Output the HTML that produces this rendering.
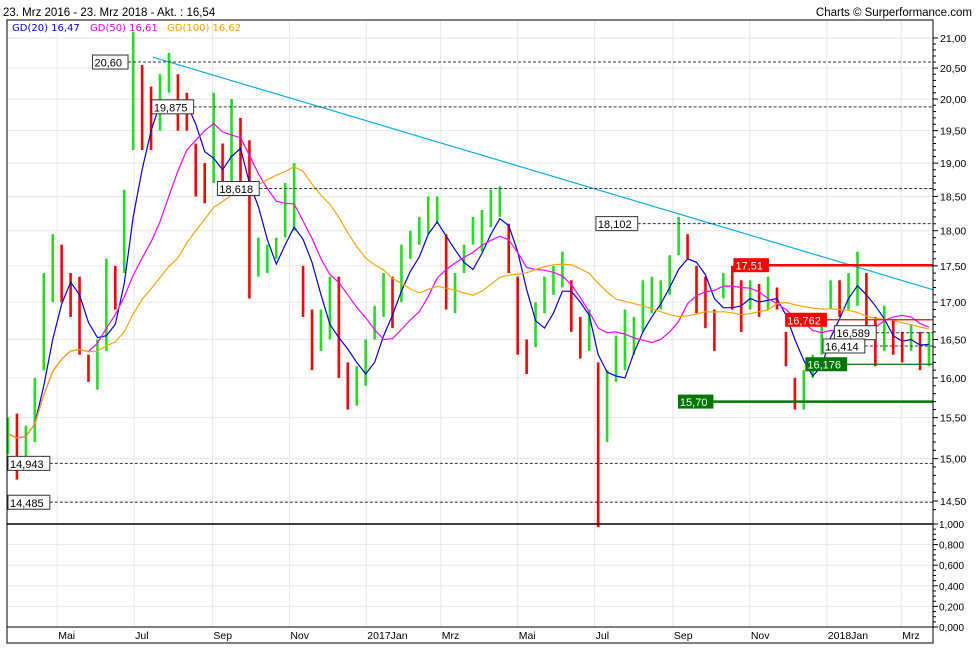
<!DOCTYPE html>
<html><head><meta charset="utf-8">
<style>
html,body{margin:0;padding:0;background:#fff;}
svg{display:block;font-family:"Liberation Sans","DejaVu Sans",sans-serif;}
</style></head>
<body>
<svg id="chart" width="980" height="650" viewBox="0 0 980 650" xmlns="http://www.w3.org/2000/svg">
<text x="3" y="16" font-size="11.5" fill="#000">23. Mrz 2016 - 23. Mrz 2018 - Akt. : 16,54</text>
<text x="972" y="16" font-size="11.5" fill="#000" text-anchor="end">Charts © Surperformance.com</text>
<g id="grid"></g>
<g id="marks"></g>
<g id="ann"></g>
<g id="axes"></g>
<g font-family="DejaVu Sans, sans-serif" font-size="10">
<text x="12" y="31" fill="#0000ee">GD(20)  16,47</text>
<text x="90" y="31" fill="#ee00ee">GD(50)  16,61</text>
<text x="167" y="31" fill="#ffa000">GD(100)  16,62</text>
</g>
</svg>
<script>
const highs=[15.5,15.55,15.4,16.0,17.4,17.95,17.8,17.4,17.35,16.3,16.5,17.6,17.5,18.6,21.1,20.55,20.2,20.4,20.75,20.4,20.1,19.3,19.0,20.1,19.3,20.0,19.7,19.35,17.9,17.8,17.9,18.7,19.0,17.5,16.9,16.9,17.35,17.35,16.2,16.15,16.5,16.95,17.4,17.35,17.8,18.0,18.2,18.5,18.5,17.95,17.4,17.8,18.2,18.3,18.6,18.65,18.1,17.35,16.5,17.0,17.35,17.5,17.7,17.3,16.8,16.9,16.2,16.1,16.55,16.9,16.8,17.3,17.35,17.3,17.65,18.2,17.95,17.5,17.35,16.9,17.4,17.5,17.3,17.3,17.25,17.35,17.2,16.6,16.0,16.1,16.3,16.85,17.3,17.3,17.4,17.7,17.4,16.8,16.95,16.75,16.6,16.7,16.6,16.6];
const lows=[15.05,14.75,15.0,15.2,16.1,17.0,17.0,16.8,16.3,15.95,15.85,16.35,16.9,17.4,19.2,19.2,19.2,19.5,20.1,19.5,19.5,18.5,18.4,18.7,18.7,18.7,18.6,17.05,17.35,17.4,17.6,17.9,18.0,16.8,16.1,16.35,16.5,16.0,15.6,15.65,15.9,16.5,16.8,16.65,17.0,17.6,17.8,17.95,18.1,16.9,16.85,17.4,17.8,17.7,18.05,18.2,17.4,16.3,16.05,16.4,16.85,17.1,17.2,16.6,16.25,16.35,14.2,15.2,15.95,16.1,16.3,16.6,16.85,16.9,17.1,17.65,17.6,16.85,16.65,16.35,17.05,16.9,16.6,16.9,16.8,16.9,16.9,16.15,15.6,15.6,16.0,16.3,16.9,16.8,16.9,16.95,16.5,16.15,16.35,16.3,16.2,16.35,16.1,16.15];
const closes=[15.3,15.2,15.3,15.9,17.2,17.6,17.2,17.1,16.5,16.1,16.4,17.2,17.1,18.3,20.2,20.0,19.5,20.0,20.3,19.8,19.6,18.7,18.6,19.4,18.9,19.5,19.1,17.3,17.5,17.6,17.7,18.4,18.5,16.9,16.4,16.6,16.9,16.2,15.8,15.9,16.3,16.8,17.2,17.0,17.6,17.9,18.0,18.3,18.3,17.1,17.2,17.6,17.9,18.0,18.3,18.5,17.5,16.5,16.2,16.8,17.1,17.3,17.4,16.8,16.5,16.6,15.3,15.9,16.3,16.5,16.6,17.0,17.1,17.2,17.5,18.0,17.7,17.0,16.8,16.7,17.2,17.0,16.9,17.1,17.0,17.1,17.0,16.2,15.7,16.0,16.2,16.7,17.2,17.0,17.3,17.4,16.7,16.4,16.6,16.5,16.4,16.5,16.3,16.54];
const maWindows=[4,10,20];
const priceTicks=[21,20.5,20,19.5,19,18.5,18,17.5,17,16.5,16,15.5,15,14.5];
const priceTickLabels=["21,00","20,50","20,00","19,50","19,00","18,50","18,00","17,50","17,00","16,50","16,00","15,50","15,00","14,50"];
const volTicks=[1,0.8,0.6,0.4,0.2,0];
const volTickLabels=["1,000","0,800","0,600","0,400","0,200","0,000"];
const monthDays=[39,100,162,223,284,343,404,465,527,588,649,708];
const monthLabels=["Mai","Jul","Sep","Nov","2017Jan","Mrz","Mai","Jul","Sep","Nov","2018Jan","Mrz"];
const levelValues=[20.60,19.875,18.618,18.102,16.589,16.414,14.943,14.485];
const levelLabels=["20,60","19,875","18,618","18,102","16,589","16,414","14,943","14,485"];
const levelStartDay=[67,114,166,466,655,646,0,0];
const trendStart=[115,20.68], trendEnd=[730,17.17];

const NS="http://www.w3.org/2000/svg";
const L=7,R=933,T=20,MB=524,VB=627,B=643;
const X0=8,X1=929,TOTALDAYS=730;
function xDay(d){return X0+(X1-X0)*d/TOTALDAYS;}
function xBar(i){return X0+(X1-X0)*i/(closes.length-1);}
function yP(p){return 38+1250*Math.log(21/p);}
function yV(v){return VB-(VB-MB)*v;}
function mk(parent,tag,attrs,name,text){const e=document.createElementNS(NS,tag);for(const k in attrs)e.setAttribute(k,attrs[k]);


if(text!==undefined)e.textContent=text;document.getElementById(parent).appendChild(e);return e;}

priceTicks.forEach((p,i)=>{mk('grid','line',{x1:L,x2:R,y1:yP(p),y2:yP(p),stroke:'#e6e6e6'},'price-gridline');});
volTicks.forEach(v=>{mk('grid','line',{x1:L,x2:R,y1:yV(v),y2:yV(v),stroke:'#e6e6e6'},'volume-gridline');});
monthDays.forEach(d=>{mk('grid','line',{x1:xDay(d),x2:xDay(d),y1:T,y2:VB,stroke:'#e6e6e6'},'month-gridline');});

for(let i=0;i<closes.length;i++){
  const up=i===0?true:closes[i]>=closes[i-1];
  mk('marks','rect',{x:xBar(i)-1.3,y:yP(highs[i]),width:2.6,height:Math.max(1,yP(lows[i])-yP(highs[i])),fill:up?'#1fe01f':'#ff0000'},'price-bar');
}
const maColors=['#0000e0','#ff00ff','#ffa500'];
const maNames=['gd20-line','gd50-line','gd100-line'];
maWindows.forEach((w,k)=>{
  let pts=[];
  for(let i=0;i<closes.length;i++){const s=Math.max(0,i-w+1);let sum=0;for(let j=s;j<=i;j++)sum+=closes[j];pts.push(xBar(i).toFixed(1)+','+yP(sum/(i-s+1)).toFixed(1));}
  mk('marks','polyline',{points:pts.join(' '),fill:'none',stroke:maColors[k],'stroke-width':1.2},maNames[k]);
});
mk('ann','line',{x1:xDay(trendStart[0]),y1:yP(trendStart[1]),x2:R,y2:yP(trendEnd[1]),stroke:'#00b0f0','stroke-width':1.2},'trendline');
levelValues.forEach((v,i)=>{
  const y=yP(v);const x=xDay(levelStartDay[i]);
  const w=levelLabels[i].length*6.3+4;
  mk('ann','line',{x1:x+w,x2:R,y1:y,y2:y,stroke:'#333','stroke-dasharray':'3,2'},'level-line');
  mk('ann','rect',{x:x,y:y-7,width:w,height:14,fill:'#fff',stroke:'#333'},'level-label-box');
  mk('ann','text',{x:x+2,y:y+4.5,'font-size':11,fill:'#000'},'level-label',levelLabels[i]);
});
const solid=[[17.51,'17,51','#ff0000',2.5,575,'resistance'],[16.762,'16,762','#ff0000',1.2,616,'resistance'],[16.176,'16,176','#007700',1.2,632,'support'],[15.70,'15,70','#007700',2.5,531,'support']];
solid.forEach(s=>{
  const y=yP(s[0]),x=xDay(s[4]);const w=s[1].length*6.3+4;
  mk('ann','line',{x1:x,x2:R,y1:y,y2:y,stroke:s[2],'stroke-width':s[3]},s[5]+'-line');
  mk('ann','rect',{x:x,y:y-7,width:w,height:14,fill:s[2]},s[5]+'-label-box');
  mk('ann','text',{x:x+2,y:y+4.5,'font-size':11,fill:'#fff'},s[5]+'-label',s[1]);
});
mk('axes','rect',{x:L,y:T,width:R-L,height:B-T,fill:'none',stroke:'#000','stroke-width':1},'chart-frame');
mk('axes','line',{x1:L,x2:R,y1:MB,y2:MB,stroke:'#000','stroke-width':1.5},'pane-divider');
mk('axes','line',{x1:L,x2:R,y1:VB,y2:VB,stroke:'#000','stroke-width':1},'x-axis-line');
priceTicks.forEach((p,i)=>{const y=yP(p);
  mk('axes','line',{x1:R,x2:R+5,y1:y,y2:y,stroke:'#000'},'price-tick');
  mk('axes','text',{x:R+7,y:y+4,'font-size':10.5,fill:'#000'},'price-tick-label',priceTickLabels[i]);
  for(let m=1;m<5;m++){const pm=p-m*0.1;if(pm<14.4)break;const ym=yP(pm);mk('axes','line',{x1:R,x2:R+3,y1:ym,y2:ym,stroke:'#000'},'price-minor-tick');}
});
volTicks.forEach((v,i)=>{const y=yV(v);
  mk('axes','line',{x1:R,x2:R+5,y1:y,y2:y,stroke:'#000'},'volume-tick');
  mk('axes','text',{x:R+6,y:y+4,'font-size':10,fill:'#000'},'volume-tick-label',volTickLabels[i]);
  if(i<5){for(let m=1;m<4;m++){const ym=yV(v-m*0.05);mk('axes','line',{x1:R,x2:R+3,y1:ym,y2:ym,stroke:'#000'},'volume-minor-tick');}}
});
monthLabels.forEach((m,i)=>{mk('axes','text',{x:xDay(monthDays[i])+1,y:639,'font-size':10.5,fill:'#000'},'month-label',m);});
</script>
</body></html>
